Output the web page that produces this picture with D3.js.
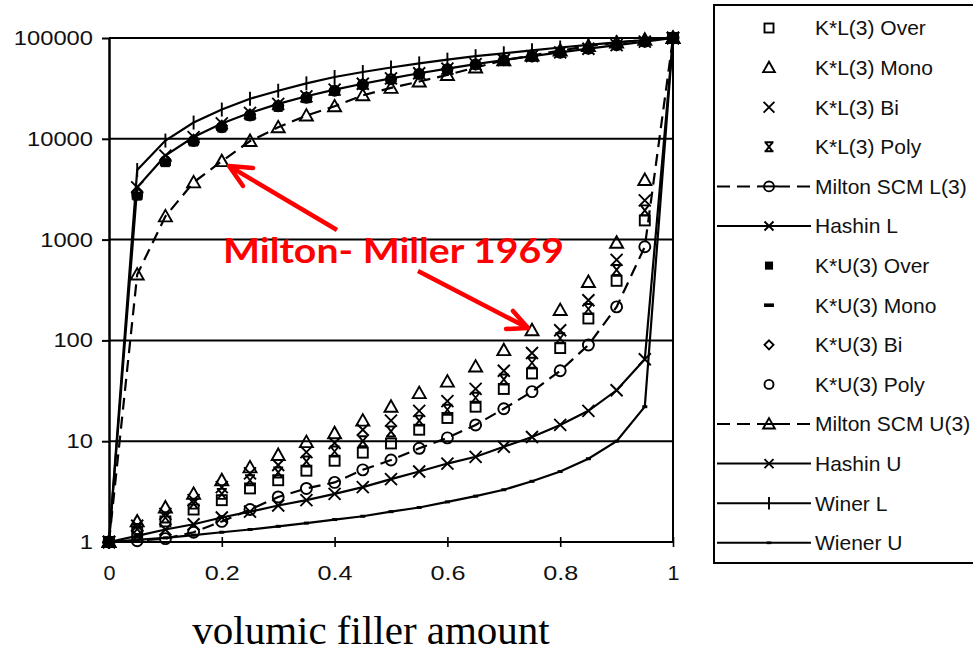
<!DOCTYPE html>
<html>
<head>
<meta charset="utf-8">
<script src="https://cdn.jsdelivr.net/npm/d3@7"></script>
<style>
body{margin:0;background:#fff;}
</style>
</head>
<body>
<div id="chart"></div>
<script>
// volumic filler amount
var xs = [0,0.05,0.1,0.15,0.2,0.25,0.3,0.35,0.4,0.45,0.5,0.55,0.6,0.65,0.7,0.75,0.8,0.85,0.9,0.95,1];

// lower group
var kLOver = [1,1.25,1.6,2.1,2.6,3.4,4.1,5.1,6.4,7.7,9.5,13,17,22,33,47,84,165,390,1550,100000];
var kLMono = [1,1.6,2.2,3.0,4.1,5.5,7.3,9.8,12,16,22,30,39,55,80,126,200,380,930,3900,100000];
var kLBi   = [1,1.45,1.9,2.6,3.5,4.8,5.8,7.8,9.6,13,16,20,25,33,50,75,126,250,630,2450,100000];
var kLPoly = [1,1.35,1.75,2.4,3.0,4.1,4.9,6.3,7.9,10,12.5,16,20.5,27,41,60,105,205,500,1950,100000];
var scmL   = [1,1.03,1.08,1.25,1.6,2.1,2.8,3.4,3.9,5.2,6.5,8.5,10.8,14.5,21,31,50,90,215,850,100000];
var hashinL= [1,1.15,1.33,1.5,1.75,2.0,2.3,2.6,3.0,3.5,4.2,5.0,6.0,7.0,8.8,11,14.5,20,32,65,100000];
var wienerU= [1,1.05,1.1,1.17,1.25,1.33,1.43,1.54,1.67,1.8,2.0,2.2,2.5,2.85,3.3,4.0,5.0,6.7,10,22,100000];

// upper group
var kUOver = [1,2700,5800,9300,12800,16800,20500,25000,29500,34000,38500,43500,48500,54000,59500,65000,71000,77500,84000,91000,100000];
var kUMono = [1,2600,5600,9000,12500,16000,20000,24000,28500,33000,38000,43000,48000,53000,59000,64500,70500,77000,84000,91000,100000];
var kUBi   = [1,3000,6200,9800,13500,17500,21500,26000,30500,35000,39500,44500,49500,55000,60500,66000,72000,78500,85000,92000,100000];
var kUPoly = [1,2800,6000,9500,13000,17000,21000,25500,30000,34500,39000,44000,49000,54500,60000,65500,71500,78000,84500,91500,100000];
var scmU   = [1,450,1700,3700,6000,9500,13000,17000,21000,27000,32000,37000,43000,51000,60000,67000,75000,83000,90000,96000,100000];
var hashinU= [1,3300,6800,10400,14200,18100,22200,26400,30700,35200,39800,44700,49700,55000,60500,66200,72000,78300,85000,92000,100000];
var wienerL= [1,4900,9600,14500,19500,25000,30000,35500,41000,46000,51000,56000,61000,66000,70500,75500,80500,85500,90500,95500,100000];

var yTicks = [1,10,100,1000,10000,100000];
var xTicks = [0,0.2,0.4,0.6,0.8,1];
var xTickLabels = ["0","0.2","0.4","0.6","0.8","1"];

var legendNames = ["K*L(3) Over","K*L(3) Mono","K*L(3) Bi","K*L(3) Poly","Milton SCM L(3)","Hashin L",
  "K*U(3) Over","K*U(3) Mono","K*U(3) Bi","K*U(3) Poly","Milton SCM U(3)","Hashin U","Winer L","Wiener U"];

var series = [
  {name:legendNames[0], vals:kLOver, marker:"square", line:null},
  {name:legendNames[1], vals:kLMono, marker:"triangle", line:null},
  {name:legendNames[2], vals:kLBi, marker:"x", line:null},
  {name:legendNames[3], vals:kLPoly, marker:"poly", line:null},
  {name:legendNames[4], vals:scmL, marker:"circleL", line:"dash"},
  {name:legendNames[5], vals:hashinL, marker:"x", line:"solid"},
  {name:legendNames[6], vals:kUOver, marker:"fsquare", line:null},
  {name:legendNames[7], vals:kUMono, marker:"dash", line:null},
  {name:legendNames[8], vals:kUBi, marker:"diamond", line:null},
  {name:legendNames[9], vals:kUPoly, marker:"circle", line:null},
  {name:legendNames[10], vals:scmU, marker:"triangle", line:"dash"},
  {name:legendNames[11], vals:hashinU, marker:"x", line:"solid"},
  {name:legendNames[12], vals:wienerL, marker:"vtick", line:"solid"},
  {name:legendNames[13], vals:wienerU, marker:"dot", line:"solid"}
];

var width = 973, height = 652;
var font = "'Liberation Sans', Arial, sans-serif";

var svg = d3.select("#chart").append("svg")
  .attr("width", width)
  .attr("height", height);
svg.append("rect").attr("width", width).attr("height", height).attr("fill", "#fff");

var x = d3.scaleLinear().domain([0, 1]).range([109, 673]);
var y = d3.scaleLog().domain([1, 100000]).range([542, 38]);

// gridlines
svg.append("g").selectAll("line")
  .data(yTicks)
  .enter().append("line")
  .attr("x1", x(0)).attr("x2", x(1))
  .attr("y1", function(d){ return y(d); })
  .attr("y2", function(d){ return y(d); })
  .attr("stroke", "#000").attr("stroke-width", 2);

// right border
svg.append("line")
  .attr("x1", x(1)).attr("x2", x(1))
  .attr("y1", y(100000)).attr("y2", y(1))
  .attr("stroke", "#000").attr("stroke-width", 2);

// y axis
var yAxis = svg.append("g")
  .attr("transform", "translate(" + x(0) + ",0)")
  .call(d3.axisLeft(y).tickValues(yTicks).tickFormat(d3.format("d")).tickSize(7).tickSizeOuter(0).tickPadding(9));
yAxis.select(".domain").attr("stroke-width", 2.5);
yAxis.selectAll(".tick line").attr("stroke-width", 2);
yAxis.selectAll("text")
  .attr("font-size", 20).attr("font-family", font).attr("fill", "#111")
  .attr("textLength", function(d){ return String(d).length * 13.2; })
  .attr("lengthAdjust", "spacingAndGlyphs");

// x axis
var xAxis = svg.append("g")
  .attr("transform", "translate(0," + (y(1) - 5) + ")")
  .call(d3.axisBottom(x).tickValues(xTicks).tickFormat(function(d, i){ return xTickLabels[i]; }).tickSize(10).tickSizeOuter(0).tickPadding(19));
xAxis.select(".domain").remove();
xAxis.selectAll(".tick line").attr("stroke-width", 1.6);
xAxis.selectAll("text")
  .attr("font-size", 20).attr("font-family", font).attr("fill", "#111")
  .attr("textLength", function(d, i){ return xTickLabels[i].length > 1 ? 35 : 12; })
  .attr("lengthAdjust", "spacingAndGlyphs");

function marker(g, type, cx, cy, s) {
  s = s || 1;
  var p;
  switch (type) {
    case "square":
      g.append("rect").attr("x", cx - 5*s).attr("y", cy - 5*s).attr("width", 10*s).attr("height", 10*s)
        .attr("fill", "none").attr("stroke", "#000").attr("stroke-width", 1.9);
      break;
    case "triangle":
      p = "M" + (cx - 6.5*s) + "," + (cy + 5*s) + "L" + (cx + 6.5*s) + "," + (cy + 5*s) + "L" + cx + "," + (cy - 6.5*s) + "Z";
      g.append("path").attr("d", p).attr("fill", "none").attr("stroke", "#000").attr("stroke-width", 1.9);
      break;
    case "x":
      p = "M" + (cx - 6*s) + "," + (cy - 6*s) + "L" + (cx + 6*s) + "," + (cy + 6*s) +
          "M" + (cx + 6*s) + "," + (cy - 6*s) + "L" + (cx - 6*s) + "," + (cy + 6*s);
      g.append("path").attr("d", p).attr("fill", "none").attr("stroke", "#000").attr("stroke-width", 1.9);
      break;
    case "poly":
      p = "M" + (cx - 4*s) + "," + (cy - 5*s) + "L" + (cx + 4*s) + "," + (cy + 5*s) +
          "M" + (cx + 4*s) + "," + (cy - 5*s) + "L" + (cx - 4*s) + "," + (cy + 5*s) +
          "M" + (cx - 5*s) + "," + (cy - 5*s) + "L" + (cx + 5*s) + "," + (cy - 5*s) +
          "M" + (cx - 5*s) + "," + (cy + 5*s) + "L" + (cx + 5*s) + "," + (cy + 5*s);
      g.append("path").attr("d", p).attr("fill", "none").attr("stroke", "#000").attr("stroke-width", 1.9);
      break;
    case "circleL":
      g.append("circle").attr("cx", cx).attr("cy", cy).attr("r", 5.5*s)
        .attr("fill", "none").attr("stroke", "#000").attr("stroke-width", 1.9);
      break;
    case "fsquare":
      g.append("rect").attr("x", cx - 4.5*s).attr("y", cy - 4.5*s).attr("width", 9*s).attr("height", 9*s).attr("fill", "#000");
      break;
    case "dash":
      g.append("rect").attr("x", cx - 5.5*s).attr("y", cy - 2*s).attr("width", 11*s).attr("height", 4*s).attr("fill", "#000");
      break;
    case "diamond":
      p = "M" + cx + "," + (cy - 5*s) + "L" + (cx + 5*s) + "," + cy + "L" + cx + "," + (cy + 5*s) + "L" + (cx - 5*s) + "," + cy + "Z";
      g.append("path").attr("d", p).attr("fill", "none").attr("stroke", "#000").attr("stroke-width", 1.9);
      break;
    case "circle":
      g.append("circle").attr("cx", cx).attr("cy", cy).attr("r", 5*s)
        .attr("fill", "none").attr("stroke", "#000").attr("stroke-width", 1.9);
      break;
    case "vtick":
      g.append("line").attr("x1", cx).attr("x2", cx).attr("y1", cy - 7*s).attr("y2", cy + 7*s)
        .attr("stroke", "#000").attr("stroke-width", 1.9);
      break;
    case "dot":
      g.append("rect").attr("x", cx - 2.5*s).attr("y", cy - 1.5*s).attr("width", 5*s).attr("height", 3*s).attr("fill", "#000");
      break;
  }
}

var line = d3.line()
  .x(function(d, i){ return x(xs[i]); })
  .y(function(d){ return y(d); });

var plot = svg.append("g");

// lines
series.filter(function(s){ return s.line; }).forEach(function(s){
  plot.append("path")
    .datum(s.vals)
    .attr("d", line)
    .attr("fill", "none")
    .attr("stroke", "#000")
    .attr("stroke-width", 2.2)
    .attr("stroke-dasharray", s.line == "dash" ? "12,7" : null);
});

// markers
series.forEach(function(s){
  var g = plot.append("g");
  g.selectAll("g.pt")
    .data(s.vals)
    .enter().append("g")
    .attr("class", "pt")
    .each(function(d, i){ marker(d3.select(this), s.marker, x(xs[i]), y(d)); });
});

// legend
var legend = svg.append("g").attr("transform", "translate(714,5)");
legend.append("rect")
  .attr("x", 0).attr("y", 0).attr("width", 300).attr("height", 558)
  .attr("fill", "#fff").attr("stroke", "#000").attr("stroke-width", 2);

var rows = legend.selectAll("g.row")
  .data(series)
  .enter().append("g")
  .attr("class", "row")
  .attr("transform", function(d, i){ return "translate(0," + (23 + i * 39.6) + ")"; });

rows.each(function(d){
  var r = d3.select(this);
  if (d.line) {
    r.append("line").attr("x1", 3).attr("x2", 97).attr("y1", 0).attr("y2", 0)
      .attr("stroke", "#000").attr("stroke-width", 2)
      .attr("stroke-dasharray", d.line == "dash" ? "13,7" : null);
    if (d.line == "dash") {
      r.append("rect").attr("x", 44).attr("y", -7).attr("width", 20).attr("height", 14).attr("fill", "#fff");
      r.append("line").attr("x1", 44).attr("x2", 64).attr("y1", 0).attr("y2", 0).attr("stroke", "#000").attr("stroke-width", 2);
    }
  }
  marker(r, d.marker, 55, 0, d.marker == "x" && d.line ? 0.75 : 0.9);
  r.append("text")
    .attr("x", 101).attr("y", 0).attr("dy", "0.35em")
    .attr("font-size", 21).attr("font-family", font).attr("fill", "#111")
    .text(d.name);
});

// annotation
var red = "#ff0000";
svg.append("text")
  .attr("x", 223).attr("y", 263)
  .attr("font-size", 34).attr("font-weight", "bold")
  .attr("font-family", "Lato, 'Open Sans', sans-serif")
  .attr("fill", red)
  .attr("textLength", 341).attr("lengthAdjust", "spacingAndGlyphs")
  .text("Milton- Miller 1969");

var arrows = [
  {from:[337, 230], to:[229, 166], h1:[253, 168], h2:[243, 186]},
  {from:[418, 271], to:[528, 328], h1:[513, 311], h2:[506, 329]}
];
arrows.forEach(function(a){
  svg.append("line")
    .attr("x1", a.from[0]).attr("y1", a.from[1]).attr("x2", a.to[0]).attr("y2", a.to[1])
    .attr("stroke", red).attr("stroke-width", 4.5);
  svg.append("path")
    .attr("d", "M" + a.h1 + "L" + a.to + "L" + a.h2)
    .attr("fill", "none").attr("stroke", red).attr("stroke-width", 4.5)
    .attr("stroke-linecap", "round").attr("stroke-linejoin", "round");
});

// x title
svg.append("text")
  .attr("x", 371).attr("y", 644)
  .attr("text-anchor", "middle")
  .attr("font-size", 41)
  .attr("font-family", "'Liberation Serif', 'Times New Roman', serif")
  .attr("fill", "#000")
  .text("volumic filler amount");
</script>
</body>
</html>
